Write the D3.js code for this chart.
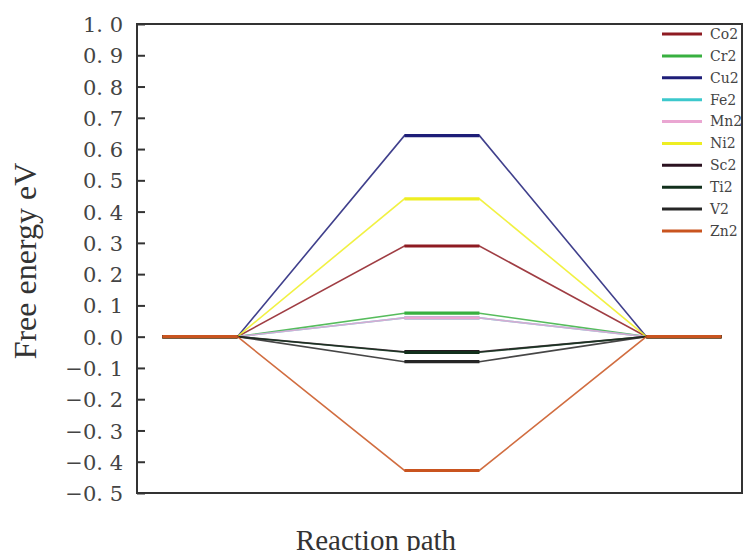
<!DOCTYPE html>
<html lang="en">
<head>
<meta charset="UTF-8"/>
<title>Free energy along reaction path</title>
<script src="https://d3js.org/d3.v7.min.js"></script>
<style>
  body { margin: 0; background: #fff; }
  svg { display: block; }
</style>
</head>
<body>
<script>
var w = 745;
var h = 551;

// three states along the path: start, middle, end
var states = [0, 1, 2];
var metals = ["Co2", "Cr2", "Cu2", "Fe2", "Mn2", "Ni2", "Sc2", "Ti2", "V2", "Zn2"];
var middleEnergy = [0.29, 0.075, 0.643, 0.06, 0.06, 0.441, -0.048, -0.05, -0.08, -0.428];
var yTicks = [1.0, 0.9, 0.8, 0.7, 0.6, 0.5, 0.4, 0.3, 0.2, 0.1, 0.0, -0.1, -0.2, -0.3, -0.4, -0.5];

var lineColors = ["#8e1b22", "#38b040", "#1e1e78", "#3cc8cc", "#eaa6d2",
                  "#eeee22", "#2b1220", "#12301c", "#262626", "#c9541f"];

var plotLeft = 137, plotRight = 742, plotTop = 24, plotBottom = 493;
var halfWidth = 0.155;

var XScale = d3.scaleLinear().domain([-0.26, 2.24]).range([plotLeft, plotRight]);
var YScale = d3.scaleLinear().domain([-0.5, 1.0]).range([plotBottom, plotTop]);
var color = d3.scaleOrdinal(metals, lineColors);

var svg = d3.select("body").append("svg")
    .attr("width", w)
    .attr("height", h);

// energies of each metal at each state
var series = metals.map(function (m, i) {
    return { name: m, values: [0, middleEnergy[i], 0] };
});

var plot = svg.append("g");
series.forEach(function (s) {
    var pts = [];
    states.forEach(function (st, k) {
        pts.push([XScale(st - halfWidth), YScale(s.values[k])]);
        pts.push([XScale(st + halfWidth), YScale(s.values[k])]);
    });
    // thin sloped connectors
    plot.append("path")
        .attr("d", d3.line()(pts))
        .attr("fill", "none")
        .attr("stroke", color(s.name))
        .attr("stroke-width", 1.6)
        .attr("stroke-opacity", 0.85);
    // thick flat segment at each state
    states.forEach(function (st, k) {
        plot.append("line")
            .attr("x1", XScale(st - halfWidth))
            .attr("x2", XScale(st + halfWidth))
            .attr("y1", YScale(s.values[k]))
            .attr("y2", YScale(s.values[k]))
            .attr("stroke", color(s.name))
            .attr("stroke-width", 3.2);
    });
});

// frame
svg.append("rect")
    .attr("x", plotLeft).attr("y", plotTop)
    .attr("width", plotRight - plotLeft).attr("height", plotBottom - plotTop)
    .attr("fill", "none")
    .attr("stroke", "#333")
    .attr("stroke-width", 2);

// y axis, ticks inward
var fmt = function (d) {
    return d3.format(".1f")(d).replace(".", ". ").replace("-", "\u2212");
};
var yAxis = d3.axisLeft(YScale)
    .tickValues(yTicks)
    .tickSize(-8)
    .tickPadding(14)
    .tickFormat(fmt);
var ya = svg.append("g")
    .attr("transform", "translate(" + plotLeft + ",0)")
    .call(yAxis);
ya.select(".domain").remove();
ya.selectAll(".tick line").attr("stroke", "#333").attr("stroke-width", 2);
ya.selectAll(".tick text")
    .attr("font-family", "DejaVu Serif")
    .attr("font-size", "21px")
    .attr("fill", "#444")
    .attr("dy", "0.36em");

// axis titles
svg.append("text")
    .attr("transform", "translate(36,261) rotate(-90)")
    .attr("text-anchor", "middle")
    .attr("font-family", "Liberation Serif")
    .attr("font-size", "32px")
    .attr("fill", "#333")
    .text("Free energy eV");

svg.append("text")
    .attr("x", 376)
    .attr("y", 550)
    .attr("text-anchor", "middle")
    .attr("font-family", "Liberation Serif")
    .attr("font-size", "29px")
    .attr("fill", "#333")
    .text("Reaction path");

// legend
var legend = svg.append("g");
var rowY = d3.scalePoint().domain(metals).range([34, 231]);
metals.forEach(function (m) {
    legend.append("line")
        .attr("x1", 662).attr("x2", 702)
        .attr("y1", rowY(m)).attr("y2", rowY(m))
        .attr("stroke", color(m))
        .attr("stroke-width", 3);
    legend.append("text")
        .attr("x", 710)
        .attr("y", rowY(m))
        .attr("dy", "0.35em")
        .attr("font-family", "DejaVu Serif")
        .attr("font-size", "14px")
        .attr("fill", "#444")
        .text(m);
});
</script>
</body>
</html>
